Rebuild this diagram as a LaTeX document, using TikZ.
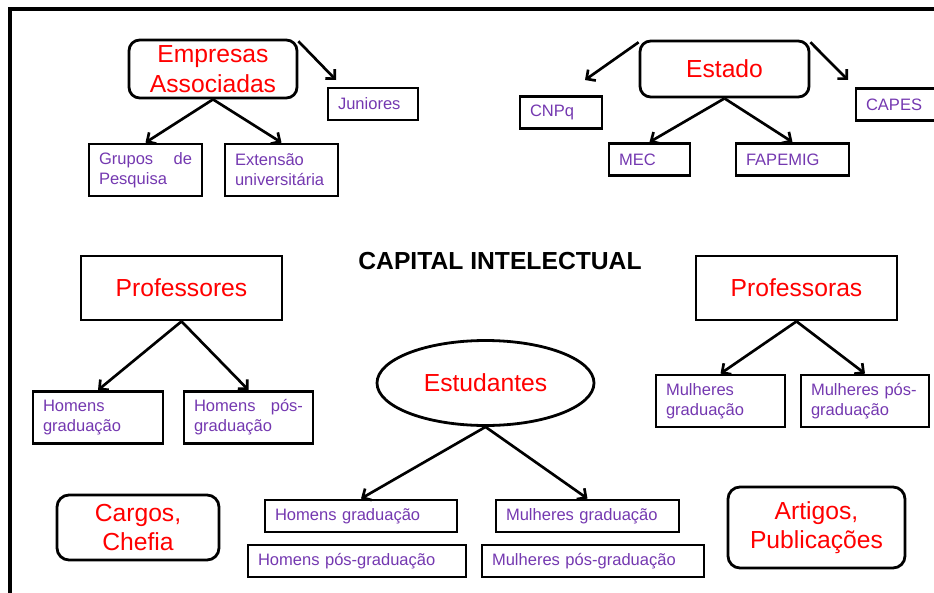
\documentclass[tikz,border=0pt]{standalone}
\usepackage{fontspec}
\setmainfont{Liberation Sans}
\usepackage{xcolor}
\usetikzlibrary{arrows.meta,shapes.geometric}
\definecolor{leafpurple}{RGB}{116,56,176}

\begin{document}
\begin{tikzpicture}[x=.75pt,y=-.75pt]
  \tikzset{
    hub/.style={draw,line width=2.1pt,rounded corners=8pt,text=red,align=center,inner sep=1pt,
      font={\fontsize{18.5pt}{22pt}\selectfont}},
    hubsq/.style={hub,sharp corners},
    leaf/.style={draw,line width=2.1pt,text=leafpurple,align=left,inner xsep=7.5pt,
      text width=#1,minimum height=24pt,font={\fontsize{12.4pt}{15pt}\selectfont}},
    leaftwo/.style={leaf=#1,minimum height=39pt},
    arr/.style={-{Straight Barb[length=5pt,width=10pt]},line width=2pt}
  }
  \useasboundingbox (0,0) rectangle (934,592);
  \draw[line width=3pt] (10,9) rectangle (950,615);
  % Empresas
  \node[hub,minimum width=126pt,minimum height=43.5pt] (emp) at (213,69) {Empresas\\Associadas};
  \node[leaf=52.5pt] (jun) at (373,104) {Juniores};
  \node[leaftwo=69.75pt] (grp) at (145.5,170) {Grupos\hfill de\\Pesquisa};
  \node[leaftwo=69.75pt] (ext) at (281.5,170) {Extensão\\universitária};
  \coordinate (jtip) at (336,80);
  \draw[arr] ([yshift=-2pt]emp.north east) -- (jtip);
  \draw[arr] (emp.south) -- (grp.north);
  \draw[arr] (emp.south) -- (ext.north);
  % Estado
  \node[hub,minimum width=126.75pt,minimum height=42pt] (est) at (724.5,69) {Estado};
  \node[leaf=46.5pt] (cnpq) at (561,112.5) {CNPq};
  \node[leaf=52.5pt] (capes) at (901,104.5) {CAPES};
  \node[leaf=45.75pt] (mec) at (649.5,159.5) {MEC};
  \node[leaf=69.75pt] (fap) at (792.5,159.5) {FAPEMIG};
  \coordinate (ctip) at (585,80);
  \coordinate (ktip) at (848,80);
  \draw[arr] ([yshift=-2pt]est.north west) -- (ctip);
  \draw[arr] ([yshift=-2pt]est.north east) -- (ktip);
  \draw[arr] (est.south) -- (mec.north);
  \draw[arr] (est.south) -- (fap.north);
  \node[font={\fontsize{18.5pt}{22pt}\selectfont\bfseries}] (title) at (500,261) {CAPITAL INTELECTUAL};
  % Professores
  \node[hubsq,minimum width=150.75pt,minimum height=48pt] (profm) at (181.5,288) {Professores};
  \node[leaftwo=82.5pt] (homg) at (98,417.5) {Homens\\graduação};
  \node[leaftwo=81.75pt] (homp) at (248.5,417.5) {Homens\hfill pós-\\graduação};
  \draw[arr] (profm.south) -- (homg.north);
  \draw[arr] (profm.south) -- (homp.north);
  % Professoras
  \node[hubsq,minimum width=150.75pt,minimum height=48pt] (profw) at (796.5,288) {Professoras};
  \node[leaftwo=81.75pt] (mulg) at (720.5,401) {Mulheres\\graduação};
  \node[leaftwo=81pt] (mulp) at (865,401) {Mulheres pós-\\graduação};
  \draw[arr] (profw.south) -- (mulg.north);
  \draw[arr] (profw.south) -- (mulp.north);
  % Estudantes
  \node[hub,ellipse,minimum width=162.75pt,minimum height=63.75pt] (estu) at (485.5,383) {Estudantes};
  \node[leaf=129pt] (sthg) at (361,516) {Homens graduação};
  \node[leaf=148.5pt] (sthp) at (357,561) {Homens pós-graduação};
  \node[leaf=122.25pt] (stmg) at (587.5,516) {Mulheres graduação};
  \node[leaf=151.5pt] (stmp) at (593,561) {Mulheres pós-graduação};
  \draw[arr] (estu.south) -- (sthg.north);
  \draw[arr] (estu.south) -- (stmg.north);
  % Cargos, Artigos
  \node[hub,rounded corners=9pt,minimum width=121.5pt,minimum height=48.75pt] (cargo) at (138,527.5) {Cargos,\\Chefia};
  \node[hub,rounded corners=9pt,minimum width=132.75pt,minimum height=60.75pt] (art) at (816.5,527.5) {Artigos,\\Publicações};
\end{tikzpicture}
\end{document}
